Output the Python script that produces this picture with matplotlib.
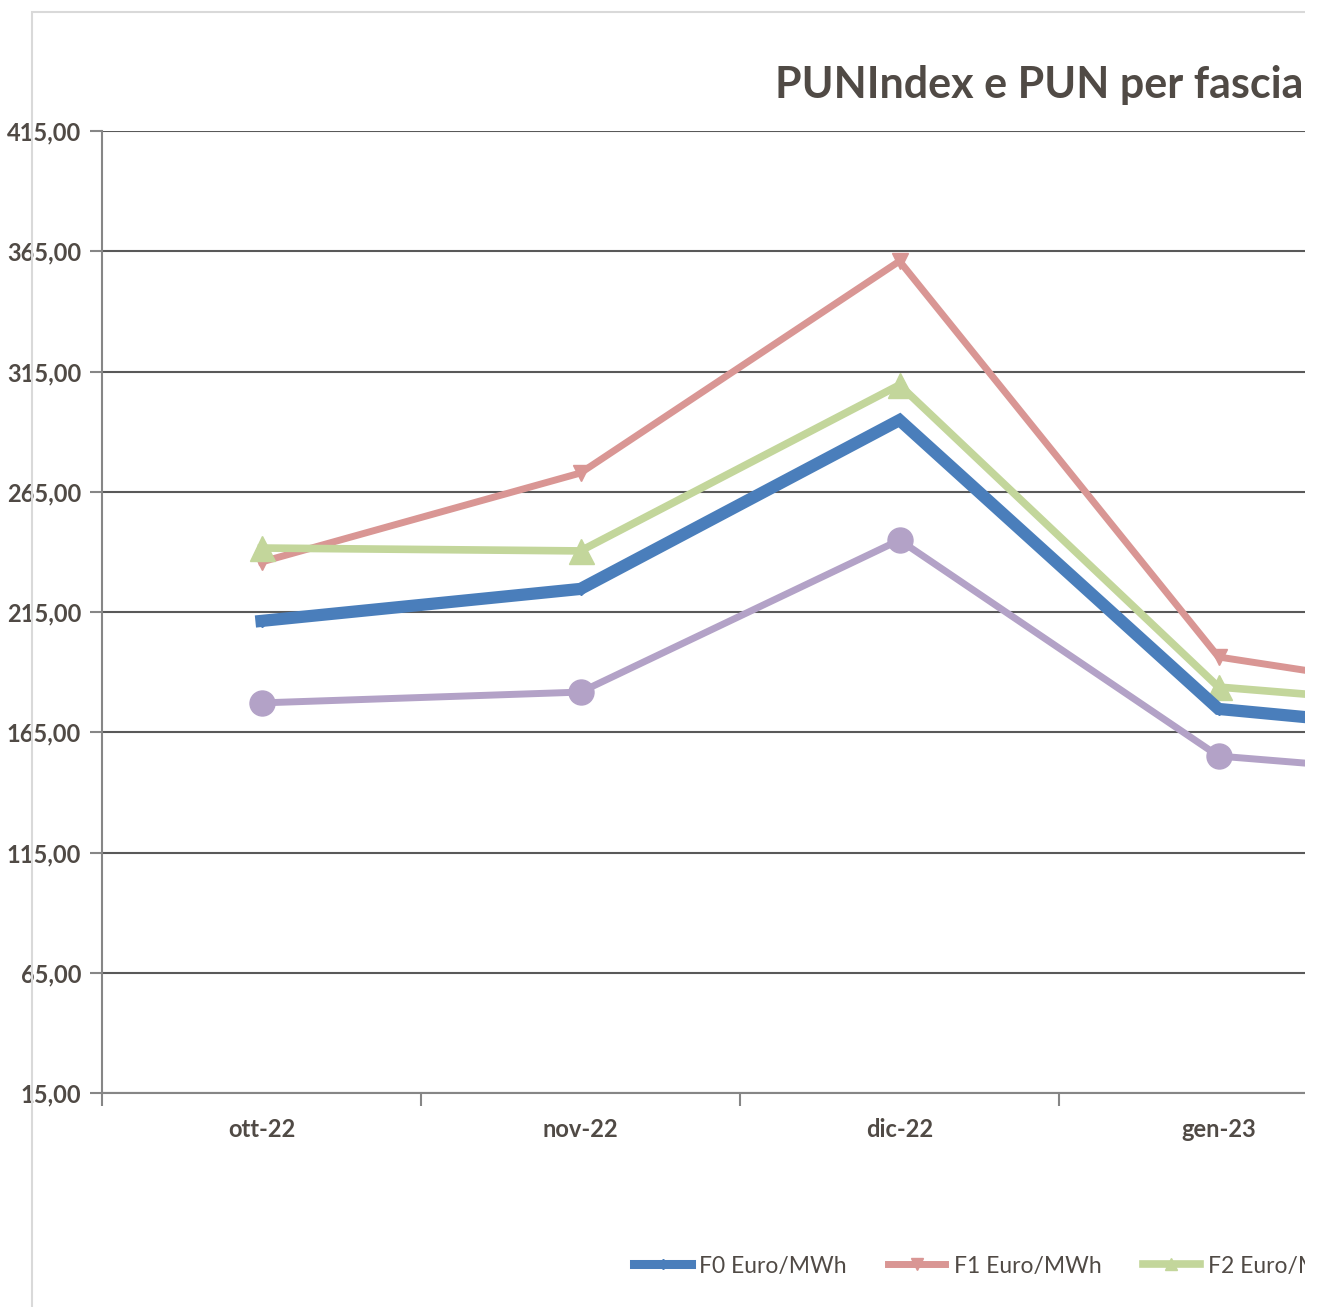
import matplotlib
matplotlib.use("Agg")
import matplotlib.pyplot as plt
from matplotlib.patches import Rectangle
from matplotlib.lines import Line2D

# data (last month lies outside the visible crop)
months = ["ott-22", "nov-22", "dic-22", "gen-23", "feb-23"]
f0 = [211.3, 224.6, 294.8, 174.7, 162.2]
f1 = [235.8, 272.8, 360.9, 196.3, 175.9]
f2 = [241.6, 240.4, 309.4, 183.8, 173.0]
f3 = [177.2, 181.7, 244.9, 155.1, 144.3]
labels = ["F0 Euro/MWh", "F1 Euro/MWh", "F2 Euro/MWh", "F3 Euro/MWh"]
yticks = [15, 65, 115, 165, 215, 265, 315, 365, 415]

txt = "#504A45"
plt.rcParams['font.family'] = ['Lato', 'DejaVu Sans']

W, H = 1323, 1307
fig = plt.figure(figsize=(W / 100, H / 100), dpi=100)

x0, x_cat = 102, 319
ax = fig.add_axes([x0 / W, (H - 1093) / H, x_cat * len(months) / W, (1093 - 131) / H])

x = range(len(months))
ax.plot(x, f0, color="#4A7EBB", lw=8.8, marker="D", ms=6, solid_joinstyle="miter", zorder=5)
ax.plot(x, f1, color="#D99694", lw=5, marker="v", ms=11, zorder=4)
ax.plot(x, f2, color="#C3D69B", lw=5.5, marker="^", ms=18, zorder=4)
ax.plot(x, f3, color="#B3A2C7", lw=5, marker="o", ms=18, zorder=3)

ax.set_xlim(-0.5, len(months) - 0.5)
ax.set_ylim(15, 415)
ax.set_yticks(yticks)
ax.set_yticklabels([f"{v},00" for v in yticks], fontsize=17, fontweight="bold", color=txt)
ax.set_xticks(list(x))
ax.set_xticklabels(months, fontsize=17, fontweight="bold", color=txt)
ax.set_xticks([i + 0.5 for i in range(-1, len(months))], minor=True)
ax.tick_params(axis="x", which="major", length=0, pad=18)
ax.tick_params(axis="x", which="minor", length=9, width=1.5, color="#868686")
ax.tick_params(axis="y", length=9, width=1.5, color="#868686", pad=6)
ax.grid(axis="y", color="#595959", lw=1.5)
ax.set_axisbelow(True)
for s in ["top", "right"]:
    ax.spines[s].set_visible(False)
ax.spines["left"].set_color("#868686")
ax.spines["left"].set_linewidth(1.5)
ax.spines["bottom"].set_color("#868686")
ax.spines["bottom"].set_linewidth(1.5)

fig.text(775 / W, 1 - 85 / H, "PUNIndex e PUN per fascia", fontsize=31, fontweight="bold",
         color=txt, ha="left", va="center")

handles = [Line2D([], [], color=l.get_color(), lw=min(l.get_linewidth(), 6.5), marker=l.get_marker(),
                  ms=9 if l.get_marker() in ("v", "^") else 5)
           for l in ax.get_lines()]
fig.legend(handles, labels, ncol=4, loc="center left", bbox_to_anchor=(634 / W, 1 - 1266 / H),
           frameon=False, fontsize=16.5, handlelength=2.5, handletextpad=0.35, columnspacing=1.8,
           labelcolor=txt, borderaxespad=0, borderpad=0)

# chart border and the clipped right edge
fig.patches.append(Rectangle((32 / W, -0.1), 1.2, 1 - 12 / H + 0.1, transform=fig.transFigure,
                             fill=False, ec="#D9D9D9", lw=1.5, zorder=10))
fig.patches.append(Rectangle((1305 / W, 0), 1, 1, transform=fig.transFigure,
                             fc="white", ec="none", zorder=20))

fig.savefig("out.png", dpi=100)
